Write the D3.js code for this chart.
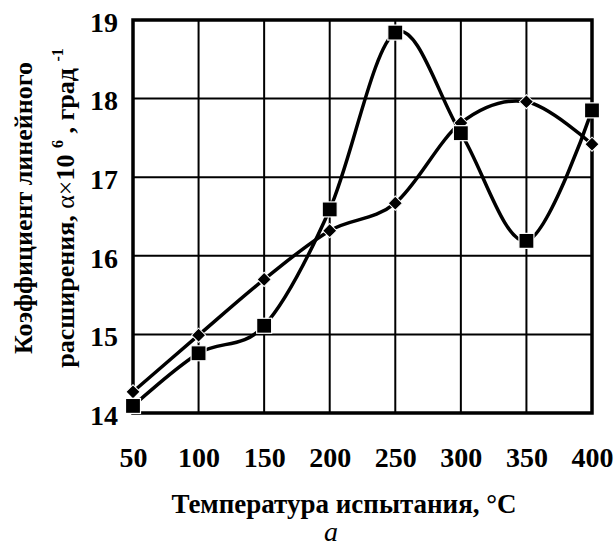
<!DOCTYPE html>
<html>
<head>
<meta charset="utf-8">
<script src="https://cdn.jsdelivr.net/npm/d3@7"></script>
<style>
  body { margin: 0; background: #fff; }
  svg text { font-family: "Liberation Serif", "Times New Roman", serif; font-weight: bold; }
</style>
</head>
<body>
<svg id="chart" width="614" height="548"></svg>
<script>
// data
var temps = [50, 100, 150, 200, 250, 300, 350, 400];
var squareSeries = [14.09, 14.76, 15.11, 16.59, 18.84, 17.56, 16.19, 17.85];
var diamondSeries = [14.27, 14.99, 15.70, 16.32, 16.67, 17.69, 17.96, 17.42];
var yTicks = [14, 15, 16, 17, 18, 19];

var svg = d3.select("#chart");

// plot box
var plotL = 133, plotR = 592, plotT = 20, plotB = 413;

var x = d3.scaleLinear().domain([50, 400]).range([plotL, plotR]);
var y = d3.scaleLinear().domain([14, 19]).range([plotB, plotT]);

// grid
var grid = svg.append("g");
grid.selectAll("line.v")
    .data(temps)
    .enter().append("line")
    .attr("x1", function(d){ return x(d); })
    .attr("x2", function(d){ return x(d); })
    .attr("y1", plotT).attr("y2", plotB)
    .style("stroke", "#000").style("stroke-width", 2);
grid.selectAll("line.h")
    .data(yTicks)
    .enter().append("line")
    .attr("x1", plotL).attr("x2", plotR)
    .attr("y1", function(d){ return y(d); })
    .attr("y2", function(d){ return y(d); })
    .style("stroke", "#000").style("stroke-width", 2);

// frame
svg.append("rect")
    .attr("x", plotL).attr("y", plotT)
    .attr("width", plotR - plotL).attr("height", plotB - plotT)
    .style("fill", "none").style("stroke", "#000").style("stroke-width", 3.5);

// axes (labels only)
var xAxis = svg.append("g")
    .attr("transform", "translate(0," + plotB + ")")
    .call(d3.axisBottom(x).tickValues(temps).tickFormat(d3.format("d")).tickSize(0).tickPadding(0));
xAxis.select(".domain").remove();
xAxis.selectAll("text")
    .attr("y", 54).attr("dy", 0)
    .style("font-size", "28px").style("fill", "#000");

var yAxis = svg.append("g")
    .attr("transform", "translate(" + plotL + ",0)")
    .call(d3.axisLeft(y).tickValues(yTicks).tickFormat(d3.format("d")).tickSize(0).tickPadding(0));
yAxis.select(".domain").remove();
yAxis.selectAll("text")
    .attr("x", -15).attr("dy", "0.4em")
    .style("font-size", "28px").style("fill", "#000");

// curves
var line = d3.line()
    .x(function(d){ return x(d[0]); })
    .y(function(d){ return y(d[1]); })
    .curve(d3.curveCatmullRom.alpha(0));

var sqData = d3.zip(temps, squareSeries);
var diData = d3.zip(temps, diamondSeries);

svg.append("path").datum(diData).attr("d", line)
    .style("fill", "none").style("stroke", "#000").style("stroke-width", 3.5);
svg.append("path").datum(sqData).attr("d", line)
    .style("fill", "none").style("stroke", "#000").style("stroke-width", 3.5);

// markers
svg.selectAll("path.dia")
    .data(diData)
    .enter().append("path")
    .attr("d", d3.symbol().type(d3.symbolSquare).size(100))
    .attr("transform", function(d){ return "translate(" + x(d[0]) + "," + y(d[1]) + ") rotate(45)"; })
    .style("fill", "#000").style("stroke", "#fff").style("stroke-width", 1);

var sq = 15;
svg.selectAll("rect.sq")
    .data(sqData)
    .enter().append("rect")
    .attr("x", function(d){ return x(d[0]) - sq/2; })
    .attr("y", function(d){ return y(d[1]) - sq/2; })
    .attr("width", sq).attr("height", sq)
    .style("fill", "#000").style("stroke", "#fff").style("stroke-width", 1.2);

// axis titles
svg.append("text")
    .attr("x", 344).attr("y", 513)
    .attr("text-anchor", "middle")
    .style("font-size", "27px")
    .text("Температура испытания, °C");

var yt = svg.append("g").attr("transform", "translate(0,208) rotate(-90)");
yt.append("text")
    .attr("x", 0).attr("y", 32)
    .attr("text-anchor", "middle")
    .style("font-size", "26px")
    .text("Коэффициент линейного");
var t2 = yt.append("text")
    .attr("x", 0).attr("y", 74)
    .attr("text-anchor", "middle")
    .style("font-size", "26px");
t2.append("tspan").text("расширения, ");
t2.append("tspan").style("font-weight", "normal").text("α×");
t2.append("tspan").text("10 ");
t2.append("tspan").attr("dy", -11).style("font-size", "16px").text("6");
t2.append("tspan").attr("dy", 11).text(" , град ");
t2.append("tspan").attr("dy", -11).style("font-size", "16px").text("-1");

svg.append("text")
    .attr("x", 331).attr("y", 541)
    .attr("text-anchor", "middle")
    .style("font-size", "28px")
    .style("font-weight", "normal")
    .style("font-style", "italic")
    .text("a");
</script>
</body>
</html>
